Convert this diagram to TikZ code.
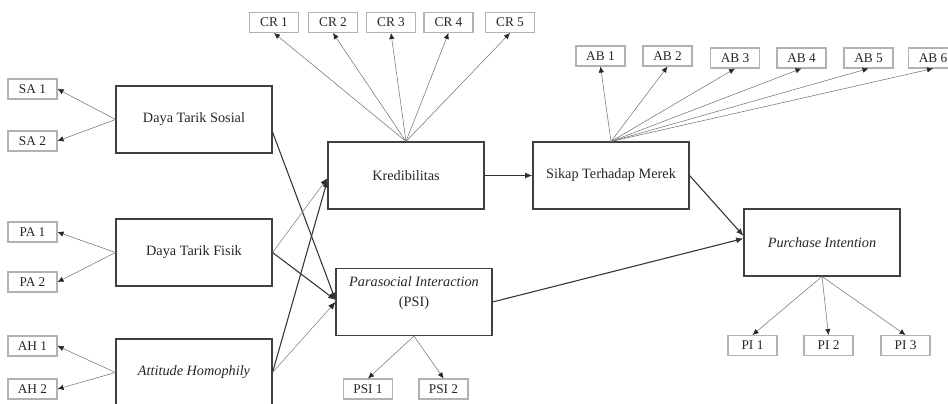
\documentclass[tikz,border=0pt]{standalone}
\usepackage{fontspec}
\setmainfont{Liberation Serif}
\usetikzlibrary{arrows.meta}
\begin{document}
\begin{tikzpicture} [x = 0.75pt, y = -0.75pt,
  konstruk/.style = {draw=black!75, line width=0.8pt, minimum width=117pt, minimum height=50.25pt, inner sep=0pt, font=\fontsize{10.7}{15}\selectfont, text=black!85},
  indikator/.style = {draw=black!30, line width=0.8pt, minimum width=36.75pt, minimum height=15pt, inner sep=0pt, font=\fontsize{10}{12}\selectfont, text=black!85},
  muat/.style = {-{Latex[length=4.5pt, width=4pt, color=black!85]}, draw=black!55, line width=0.4pt},
  jalur/.style = {-{Latex[length=5.5pt, width=4.5pt]}, draw=black!80, line width=0.8pt},
  jalurtipis/.style = {-{Latex[length=5.5pt, width=4.5pt, color=black!85]}, draw=black!50, line width=0.4pt}]
\useasboundingbox (0, 0) rectangle (948, 403);
\node [konstruk] (sosial) at (194, 119.5) {Daya Tarik Sosial};
\node [konstruk] (fisik) at (194, 252.5) {Daya Tarik Fisik};
\node [konstruk] (homofili) at (194, 372.5) {\textit{Attitude Homophily}};
\node [konstruk] (kred) at (406, 175.5) {Kredibilitas};
\node [konstruk] (sikap) at (611, 175.5) {Sikap Terhadap Merek};
\node [konstruk, align=center, text depth=16pt] (psi) at (414, 302) {\textit{Parasocial Interaction}\\(PSI)};
\node [konstruk] (niat) at (822, 242.5) {\textit{Purchase Intention}};
\node [indikator] (sa1) at (32.5, 89) {SA 1};
\node [indikator] (sa2) at (32.5, 141) {SA 2};
\node [indikator] (pa1) at (32.5, 232) {PA 1};
\node [indikator] (pa2) at (32.5, 282) {PA 2};
\node [indikator] (ah1) at (32.5, 346) {AH 1};
\node [indikator] (ah2) at (32.5, 389) {AH 2};
\node [indikator] (cr1) at (274, 22.5) {CR 1};
\node [indikator] (cr2) at (333, 22.5) {CR 2};
\node [indikator] (cr3) at (391, 22.5) {CR 3};
\node [indikator] (cr4) at (448.5, 22.5) {CR 4};
\node [indikator] (cr5) at (510, 22.5) {CR 5};
\node [indikator] (ab1) at (600.5, 56) {AB 1};
\node [indikator] (ab2) at (667.5, 56) {AB 2};
\node [indikator] (ab3) at (735, 58) {AB 3};
\node [indikator] (ab4) at (801.5, 58) {AB 4};
\node [indikator] (ab5) at (868.5, 58) {AB 5};
\node [indikator] (ab6) at (933, 58) {AB 6};
\node [indikator] (psi1) at (368, 389) {PSI 1};
\node [indikator] (psi2) at (443.5, 389) {PSI 2};
\node [indikator] (pi1) at (752.5, 345.5) {PI 1};
\node [indikator] (pi2) at (828.5, 345.5) {PI 2};
\node [indikator] (pi3) at (905.5, 345.5) {PI 3};
\draw [muat] (sosial.west) -- (sa1.east);
\draw [muat] (sosial.west) -- (sa2.east);
\draw [muat] (fisik.west) -- (pa1.east);
\draw [muat] (fisik.west) -- (pa2.east);
\draw [muat] (homofili.west) -- (ah1.east);
\draw [muat] (homofili.west) -- (ah2.east);
\draw [muat] (kred.north) -- (cr1.south);
\draw [muat] (kred.north) -- (cr2.south);
\draw [muat] (kred.north) -- (cr3.south);
\draw [muat] (kred.north) -- (cr4.south);
\draw [muat] (kred.north) -- (cr5.south);
\draw [muat] (sikap.north) -- (ab1.south);
\draw [muat] (sikap.north) -- (ab2.south);
\draw [muat] (sikap.north) -- (ab3.south);
\draw [muat] (sikap.north) -- (ab4.south);
\draw [muat] (sikap.north) -- (ab5.south);
\draw [muat] (sikap.north) -- (ab6.south);
\draw [muat] (psi.south) -- (psi1.north);
\draw [muat] (psi.south) -- (psi2.north);
\draw [muat] (niat.south) -- (pi1.north);
\draw [muat] (niat.south) -- (pi2.north);
\draw [muat] (niat.south) -- (pi3.north);
\draw [jalur] ([yshift=-9.4pt]sosial.east) -- ([yshift=1.5pt]psi.west);
\draw [jalur] (fisik.east) -- ([yshift=1.5pt]psi.west);
\draw [jalurtipis] (fisik.east) -- ([yshift=-2pt]kred.west);
\draw [jalur] (homofili.east) -- ([yshift=-3.5pt]kred.west);
\draw [jalurtipis] (homofili.east) -- (psi.west);
\draw [jalur] (kred.east) -- (sikap.west);
\draw [jalur] (sikap.east) -- ([yshift=5pt]niat.west);
\draw [jalur] (psi.east) -- ([yshift=3pt]niat.west);
\end{tikzpicture}
\end{document}
